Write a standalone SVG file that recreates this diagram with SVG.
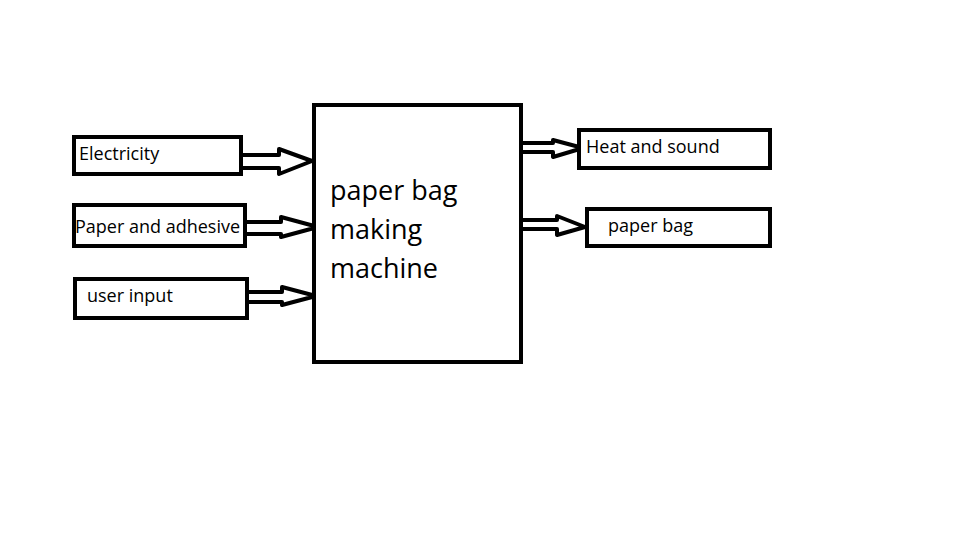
<svg xmlns="http://www.w3.org/2000/svg" width="962" height="550" viewBox="0 0 962 550">
<style>
.box{fill:#fff;stroke:#000;stroke-width:4}
.arr{fill:#fff;stroke:#000;stroke-width:4;stroke-linejoin:round}
.lbl{font-family:"Open Sans","Noto Sans",sans-serif;font-size:18px;fill:#000}
.big{font-family:"Open Sans","Noto Sans",sans-serif;font-size:27px;fill:#000}
</style>
<rect width="962" height="550" fill="#fff"/>
<g id="connectors">
<path class="arr" d="M243,155 H279 V149 L312,161 L279,174 V168 H243"/>
<path class="arr" d="M247,222 H281 V217 L318,227 L281,237 V234 H247"/>
<path class="arr" d="M248,292 H282 V287 L316,296 L282,305 V302 H248"/>
<path class="arr" d="M521,143 H553 V140 L583,148 L553,157 V152 H521"/>
<path class="arr" d="M521,220 H557 V216 L585,227 L557,235 V229 H521"/>
</g>
<g id="machine">
<rect class="box" x="314" y="105" width="207" height="257"/>
<text class="big" x="330" y="200">paper bag</text>
<text class="big" x="330" y="239">making</text>
<text class="big" x="330" y="278">machine</text>
</g>
<g id="electricity">
<rect class="box" x="74" y="137" width="167" height="37"/>
<text class="lbl" x="79" y="160">Electricity</text>
</g>
<g id="paper-adhesive">
<rect class="box" x="74" y="205" width="171" height="41"/>
<text class="lbl" x="75" y="233">Paper and adhesive</text>
</g>
<g id="user-input">
<rect class="box" x="75" y="279" width="172" height="39"/>
<text class="lbl" x="87" y="302">user input</text>
</g>
<g id="heat-sound">
<rect class="box" x="579" y="130" width="191" height="38"/>
<text class="lbl" x="586" y="153">Heat and sound</text>
</g>
<g id="paper-bag">
<rect class="box" x="587" y="209" width="183" height="37"/>
<text class="lbl" x="608" y="232">paper bag</text>
</g>
</svg>
